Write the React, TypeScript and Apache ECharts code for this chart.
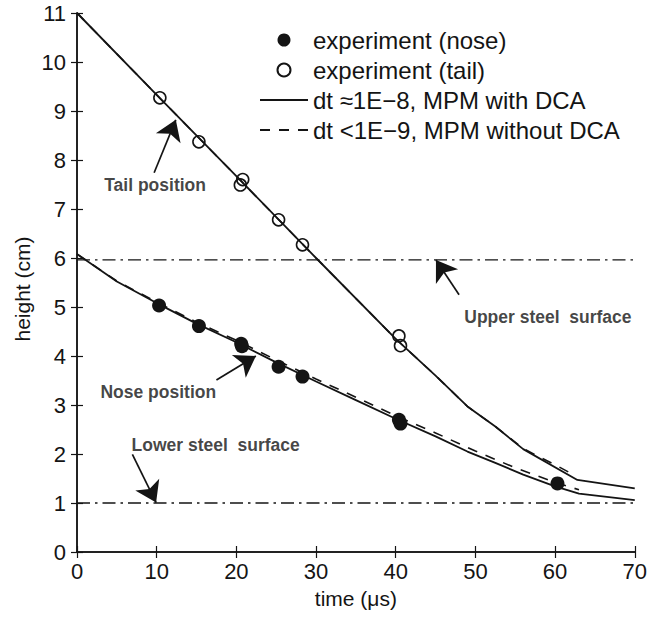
import React, { useEffect, useRef } from "react";
import * as echarts from "echarts";

// ---- data ----
const xTicks = [0, 10, 20, 30, 40, 50, 60, 70];
const yTicks = [0, 1, 2, 3, 4, 5, 6, 7, 8, 9, 10, 11];

const noseExpTime = [10.3, 15.3, 20.6, 20.7, 25.3, 28.3, 40.4, 40.6, 60.3];
const noseExpHeight = [5.03, 4.61, 4.25, 4.2, 3.78, 3.58, 2.7, 2.62, 1.4];

const tailExpTime = [10.4, 15.3, 20.5, 20.8, 25.3, 28.3, 40.4, 40.6];
const tailExpHeight = [9.27, 8.37, 7.49, 7.6, 6.78, 6.27, 4.41, 4.21];

const tailDcaTime = [0, 10, 20, 30, 40, 45, 49, 52.5, 56, 62.8, 70];
const tailDcaHeight = [11, 9.33, 7.67, 6.0, 4.35, 3.6, 2.97, 2.56, 2.1, 1.47, 1.3];

const noseDcaTime = [0, 5, 10, 15, 20, 25, 30, 35, 40, 45, 49, 52.5, 56, 60, 63, 70];
const noseDcaHeight = [6.08, 5.52, 5.08, 4.66, 4.28, 3.87, 3.48, 3.1, 2.72, 2.36, 2.05, 1.82, 1.58, 1.34, 1.19, 1.06];

const tailNoDcaTime = [0, 10, 20, 30, 40, 45, 49, 52.5, 56, 60, 62.5];
const tailNoDcaHeight = [11, 9.33, 7.67, 6.0, 4.35, 3.6, 2.97, 2.56, 2.11, 1.78, 1.56];

const noseNoDcaTime = [0, 5, 10, 15, 20, 25, 30, 35, 40, 45, 50, 55, 60, 63];
const noseNoDcaHeight = [6.08, 5.53, 5.1, 4.69, 4.32, 3.92, 3.53, 3.16, 2.78, 2.43, 2.06, 1.72, 1.42, 1.27];

const upperSurface = 5.96;
const lowerSurface = 1.0;

const legendNames = [
  "experiment (nose)",
  "experiment (tail)",
  "dt \u22481E\u22128, MPM with DCA",
  "dt <1E\u22129, MPM without DCA",
];

const annotationLabels = ["Tail position", "Nose position", "Lower steel  surface", "Upper steel  surface"];
const annotationPos: [number, number][] = [
  [9.8, 7.49],
  [10.2, 3.27],
  [17.4, 2.19],
  [59.1, 4.8],
];
const arrowFrom: [number, number][] = [
  [9.68, 7.74],
  [17.5, 3.51],
  [6.95, 1.99],
  [47.95, 5.25],
];
const arrowTo: [number, number][] = [
  [12.4, 8.82],
  [22.45, 4.0],
  [9.93, 1.01],
  [45.05, 5.96],
];

const FONT = "'Liberation Sans', Arial, Helvetica, sans-serif";
const INK = "#141414";

const pairs = (xs: number[], ys: number[]) => xs.map((x, i) => [x, ys[i]]);

export default function App() {
  const ref = useRef<HTMLDivElement>(null);

  useEffect(() => {
    document.body.style.margin = "0";
    if (!ref.current) return;
    const chart = echarts.init(ref.current, undefined, { renderer: "svg" });

    const axisCommon = {
      type: "value" as const,
      axisLine: { show: true, lineStyle: { color: INK, width: 1.5 } },
      axisTick: { show: true, inside: true, length: 6, lineStyle: { color: INK, width: 1.2 } },
      splitLine: { show: false },
    };

    const solidLine = { color: INK, width: 1.8, type: "solid" as const };
    const dashedLine = { color: INK, width: 1.6, type: [10, 9] };
    const dashDot = { color: INK, width: 1.3, type: [13, 5, 2.5, 5] };

    const option = {
      animation: false,
      grid: { left: 77, right: 9, top: 13, bottom: 67 },
      legend: {
        data: legendNames.map((n, i) =>
          i < 2 ? { name: n } : { name: n, itemStyle: { opacity: 0 } }
        ),
        orient: "vertical",
        left: 259,
        top: 28,
        padding: 0,
        itemWidth: 48,
        itemHeight: 13,
        itemGap: 6,
        selectedMode: false,
        textStyle: { fontSize: 24, color: INK, fontFamily: FONT, lineHeight: 24 },
      },
      xAxis: [
        {
          ...axisCommon,
          min: xTicks[0],
          max: xTicks[xTicks.length - 1],
          interval: 10,
          position: "bottom",
          name: "time (\u03bcs)",
          nameLocation: "middle",
          nameGap: 36,
          nameTextStyle: { fontSize: 21, color: INK, fontFamily: FONT },
          axisLabel: { fontSize: 22, color: INK, margin: 8, fontFamily: FONT },
        },
        {
          ...axisCommon,
          min: xTicks[0],
          max: xTicks[xTicks.length - 1],
          interval: 10,
          position: "top",
          axisLabel: { show: false },
        },
      ],
      yAxis: [
        {
          ...axisCommon,
          min: yTicks[0],
          max: yTicks[yTicks.length - 1],
          interval: 1,
          position: "left",
          axisLabel: { fontSize: 22, color: INK, margin: 11, fontFamily: FONT },
        },
        {
          ...axisCommon,
          min: yTicks[0],
          max: yTicks[yTicks.length - 1],
          interval: 1,
          position: "right",
          axisLabel: { show: false },
        },
      ],
      graphic: [
        {
          type: "text",
          x: 22,
          y: 289,
          rotation: Math.PI / 2,
          style: {
            text: "height (cm)",
            fontSize: 21,
            fontFamily: FONT,
            fill: INK,
            align: "center",
            verticalAlign: "middle",
          },
        },
      ],
      series: [
        {
          name: "upper",
          type: "line",
          data: [
            [xTicks[0], upperSurface],
            [xTicks[xTicks.length - 1], upperSurface],
          ],
          symbol: "none",
          lineStyle: dashDot,
          z: 1,
          markLine: {
            silent: true,
            symbol: ["none", "arrow"],
            symbolSize: 20,
            label: { show: false },
            itemStyle: { color: INK },
            lineStyle: { color: INK, width: 1.7, type: "solid" },
            data: arrowFrom.map((f, i) => [{ coord: f }, { coord: arrowTo[i] }]),
          },
        },
        {
          name: "lower",
          type: "line",
          data: [
            [xTicks[0], lowerSurface],
            [xTicks[xTicks.length - 1], lowerSurface],
          ],
          symbol: "none",
          lineStyle: dashDot,
          z: 1,
        },
        {
          name: legendNames[3],
          type: "line",
          data: pairs(tailNoDcaTime, tailNoDcaHeight),
          symbol: "none",
          lineStyle: dashedLine,
          itemStyle: { color: INK },
          z: 2,
        },
        {
          name: legendNames[3],
          type: "line",
          data: pairs(noseNoDcaTime, noseNoDcaHeight),
          symbol: "none",
          lineStyle: dashedLine,
          itemStyle: { color: INK },
          z: 2,
        },
        {
          name: legendNames[2],
          type: "line",
          data: pairs(tailDcaTime, tailDcaHeight),
          symbol: "none",
          lineStyle: solidLine,
          itemStyle: { color: INK },
          z: 3,
        },
        {
          name: legendNames[2],
          type: "line",
          data: pairs(noseDcaTime, noseDcaHeight),
          symbol: "none",
          lineStyle: solidLine,
          itemStyle: { color: INK },
          z: 3,
        },
        {
          name: legendNames[0],
          type: "scatter",
          data: pairs(noseExpTime, noseExpHeight),
          symbol: "circle",
          symbolSize: 14,
          itemStyle: { color: INK, opacity: 1 },
          z: 4,
        },
        {
          name: legendNames[1],
          type: "scatter",
          data: pairs(tailExpTime, tailExpHeight),
          symbol: "circle",
          symbolSize: 12,
          itemStyle: { color: "rgba(255,255,255,0)", borderColor: INK, borderWidth: 1.6, opacity: 1 },
          z: 4,
        },
        {
          name: "annotations",
          type: "scatter",
          data: annotationLabels.map((t, i) => ({ name: t, value: annotationPos[i] })),
          symbolSize: 1,
          itemStyle: { color: "rgba(0,0,0,0)" },
          label: {
            show: true,
            position: "inside",
            formatter: "{b}",
            fontSize: 17.5,
            fontWeight: "bold",
            fontFamily: FONT,
            color: INK,
          },
          silent: true,
          z: 5,
        },
      ],
    };

    chart.setOption(option as any);
    return () => chart.dispose();
  }, []);

  return <div ref={ref} style={{ width: 650, height: 619 }} />;
}
